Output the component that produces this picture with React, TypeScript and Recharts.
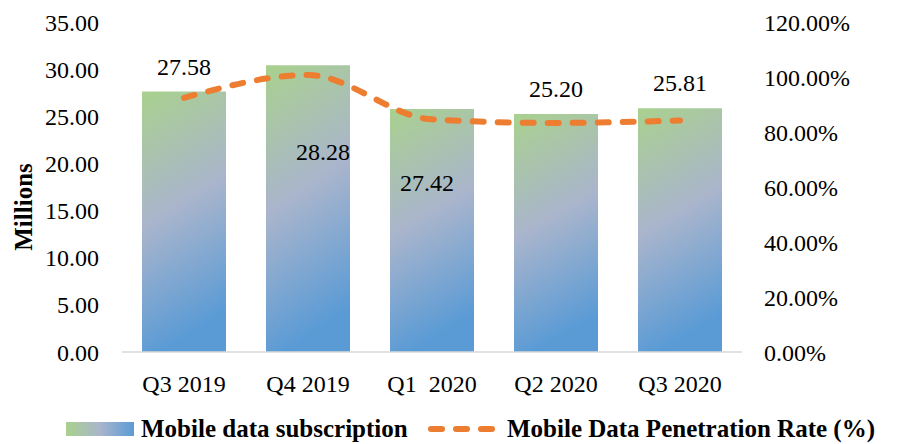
import React from 'react';
import { ComposedChart, Bar, Line, XAxis, YAxis, Legend, LabelList, Label } from 'recharts';

const categories = ['Q3 2019', 'Q4 2019', 'Q1\u00A0 2020', 'Q2 2020', 'Q3 2020'];
const subscriptions = [27.62, 30.42, 25.78, 25.24, 25.86];
const subscriptionLabels = [27.58, 28.28, 27.42, 25.2, 25.81];
const penetrationRate = [92.4, 100.7, 84.6, 83.3, 84.2];
const leftTicks = [0, 5, 10, 15, 20, 25, 30, 35];
const rightTicks = [0, 20, 40, 60, 80, 100, 120];

const data = categories.map((c, i) => ({
  name: c,
  subs: subscriptions[i],
  label: subscriptionLabels[i],
  rate: penetrationRate[i],
}));

const FONT = '"Liberation Serif", "Times New Roman", serif';
const ORANGE = '#ED7D31';
// label placement offsets (dx from bar centre, dy from bar top) - styling only
const labelOffsets: [number, number][] = [
  [0, -25],
  [15, 87],
  [-5, 74],
  [0, -25],
  [0, -25],
];

const renderBarLabel = (props: any) => {
  const { x, y, width, index } = props;
  const [dx, dy] = labelOffsets[index] || [0, -25];
  return (
    <text
      x={x + width / 2 + dx}
      y={y + dy}
      dy="0.34em"
      textAnchor="middle"
      style={{ fontFamily: FONT, fontSize: 24 }}
      fill="#000"
    >
      {subscriptionLabels[index].toFixed(2)}
    </text>
  );
};

const renderLegend = () => (
  <div style={{ position: 'relative', width: 897, height: 30, fontFamily: FONT }}>
    <div
      style={{
        position: 'absolute',
        left: 66,
        top: 8,
        width: 68,
        height: 14,
        background: 'linear-gradient(to right, #A9D18E 0%, #AAB5CC 50%, #5B9BD5 100%)',
      }}
    />
    <div
      style={{
        position: 'absolute',
        left: 141,
        top: 0,
        lineHeight: '30px',
        fontSize: 25,
        fontWeight: 'bold',
        color: '#000',
        whiteSpace: 'nowrap',
      }}
    >
      Mobile data subscription
    </div>
    <svg style={{ position: 'absolute', left: 425, top: 0 }} width={74} height={30}>
      <line
        x1={6}
        y1={15}
        x2={68}
        y2={15}
        stroke={ORANGE}
        strokeWidth={6}
        strokeLinecap="round"
        strokeDasharray="11 14"
      />
    </svg>
    <div
      style={{
        position: 'absolute',
        left: 507,
        top: 0,
        lineHeight: '30px',
        fontSize: 25,
        fontWeight: 'bold',
        color: '#000',
        whiteSpace: 'nowrap',
      }}
    >
      Mobile Data Penetration Rate (%)
    </div>
  </div>
);

const renderYLabel = () => {
  return (
    <text
      x={23}
      y={207}
      transform="rotate(-90 23 207)"
      textAnchor="middle"
      dominantBaseline="central"
      style={{ fontFamily: FONT, fontSize: 25, fontWeight: 'bold' }}
      fill="#000"
    >
      Millions
    </text>
  );
};

export default function App() {
  const tickStyle = { fontFamily: FONT, fontSize: 24, fill: '#000' };
  return (
    <div style={{ position: 'absolute', left: 0, top: 0, width: 897, height: 444, background: '#fff' }}>
      <ComposedChart
        width={897}
        height={444}
        data={data}
        margin={{ top: 22, right: 0, bottom: 0, left: 0 }}
        barCategoryGap={20}
      >
        <defs>
          <linearGradient id="barGrad" x1="0" y1="0" x2="0.2" y2="1">
            <stop offset="0%" stopColor="#A9D18E" />
            <stop offset="50%" stopColor="#AAB5CC" />
            <stop offset="100%" stopColor="#5B9BD5" />
          </linearGradient>
        </defs>
        <XAxis
          dataKey="name"
          height={62}
          tickLine={false}
          tickSize={0}
          tickMargin={23}
          axisLine={{ stroke: '#D9D9D9', strokeWidth: 1.5 }}
          tick={tickStyle}
          interval={0}
        />
        <YAxis
          yAxisId="left"
          width={122}
          domain={[0, 35]}
          ticks={leftTicks}
          tickFormatter={(v: number) => v.toFixed(2)}
          axisLine={false}
          tickLine={false}
          tickSize={0}
          tickMargin={23}
          tick={tickStyle}
        >
          <Label content={renderYLabel} />
        </YAxis>
        <YAxis
          yAxisId="right"
          orientation="right"
          width={155}
          domain={[0, 120]}
          ticks={rightTicks}
          tickFormatter={(v: number) => v.toFixed(2) + '%'}
          axisLine={false}
          tickLine={false}
          tickSize={0}
          tickMargin={22}
          tick={tickStyle}
        />
        <Legend verticalAlign="bottom" content={renderLegend} wrapperStyle={{ left: 0, bottom: 0, width: 897, height: 30 }} />
        <Bar yAxisId="left" dataKey="subs" name="Mobile data subscription" fill="url(#barGrad)" isAnimationActive={false}>
          <LabelList dataKey="label" content={renderBarLabel} />
        </Bar>
        <Line
          yAxisId="right"
          dataKey="rate"
          name="Mobile Data Penetration Rate (%)"
          type="monotone"
          stroke={ORANGE}
          strokeWidth={6}
          strokeLinecap="round"
          strokeDasharray="11 14"
          dot={false}
          activeDot={false}
          isAnimationActive={false}
        />
      </ComposedChart>
    </div>
  );
}
